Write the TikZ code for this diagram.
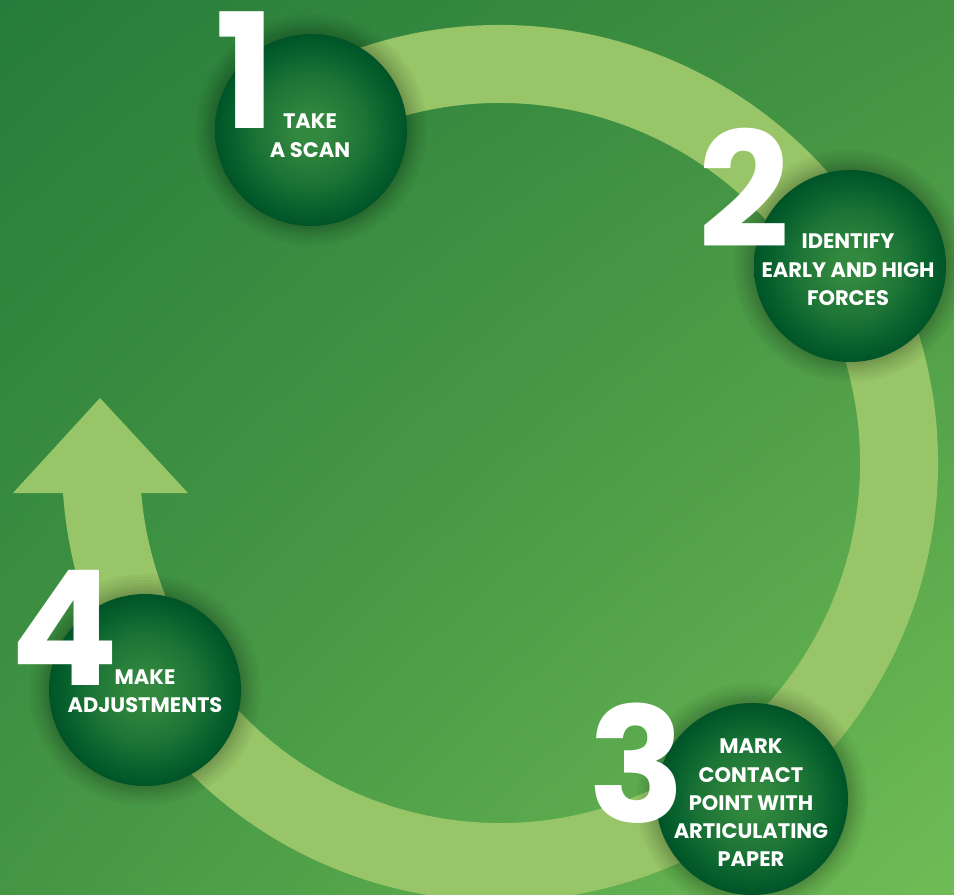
\documentclass[tikz,border=0pt]{standalone}
\usepackage{fontspec}
\usetikzlibrary{shadings}
\setmainfont{Poppins}
\definecolor{bgTL}{RGB}{38,124,58}
\definecolor{bgTR}{RGB}{66,146,66}
\definecolor{bgBL}{RGB}{68,150,68}
\definecolor{bgBR}{RGB}{112,188,86}
\definecolor{ringgreen}{RGB}{151,197,103}
\definecolor{ballA}{RGB}{50,136,62}
\definecolor{ballB}{RGB}{28,116,54}
\definecolor{ballC}{RGB}{6,96,44}
\definecolor{ballD}{RGB}{0,84,40}
\pgfdeclareradialshading{stepball}{\pgfpoint{0bp}{0bp}}{color(0bp)=(ballA); color(4bp)=(ballA); color(14bp)=(ballB); color(21bp)=(ballC); color(25bp)=(ballD); color(50bp)=(ballD)}
\tikzset{
  ball/.style={circle, minimum size=192pt, inner sep=0pt, shade, shading=stepball},
  halo/.style={fill=black, opacity=0.028},
  digit/.style={text=white, font=\fontsize{160}{160}\selectfont\bfseries, anchor=base, inner sep=0pt},
  lbl/.style={text=white, font=\fontsize{21}{21}\selectfont\bfseries, inner sep=0pt, anchor=base},
  ringline/.style={draw=ringgreen, line width=78pt}
}
\begin{document}
\begin{tikzpicture}[x=1pt,y=-1pt]
\shade[upper left=bgTL, upper right=bgTR, lower left=bgBL, lower right=bgBR] (0,0) rectangle (954,895);
\useasboundingbox (0,0) rectangle (954,895);
% ring
\coordinate (rc) at (500,463);
\draw[ringline] (rc) ++(240:399) arc[start angle=240, end angle=540, radius=399];
% arrow head
\coordinate (hl) at (13,493);
\coordinate (hr) at (188,493);
\coordinate (tip) at (100,398);
\fill[ringgreen] (hl) -- (tip) -- (hr) -- cycle;
% circles
\foreach \n/\x/\y in {1/311/130, 2/850/266, 3/752/799, 4/145/690} {
  \foreach \r in {97,99,101,103,105,107,110,113,116} \fill[halo] (\x,\y) circle[radius=\r];
  \node[ball] (c\n) at (\x,\y) {};
}
% digits
\node[digit] (n1) at (246,128) {1};
\node[digit] (n2) at (744,247) {2};
\node[digit] (n3) at (637,822) {3};
\node[digit] (n4) at (65,685) {4};
% labels
\node[lbl] (t1a) at (310,128) {TAKE};
\node[lbl] (t1b) at (310,157) {A SCAN};
\node[lbl] (t2a) at (848,248) {IDENTIFY};
\node[lbl] (t2b) at (848,277) {EARLY AND HIGH};
\node[lbl] (t2c) at (848,305) {FORCES};
\node[lbl] (t3a) at (751,753) {MARK};
\node[lbl] (t3b) at (751,782) {CONTACT};
\node[lbl] (t3c) at (751,810) {POINT WITH};
\node[lbl] (t3d) at (751,838) {ARTICULATING};
\node[lbl] (t3e) at (751,866) {PAPER};
\node[lbl] (t4a) at (145,684) {MAKE};
\node[lbl] (t4b) at (145,712) {ADJUSTMENTS};
\end{tikzpicture}
\end{document}
